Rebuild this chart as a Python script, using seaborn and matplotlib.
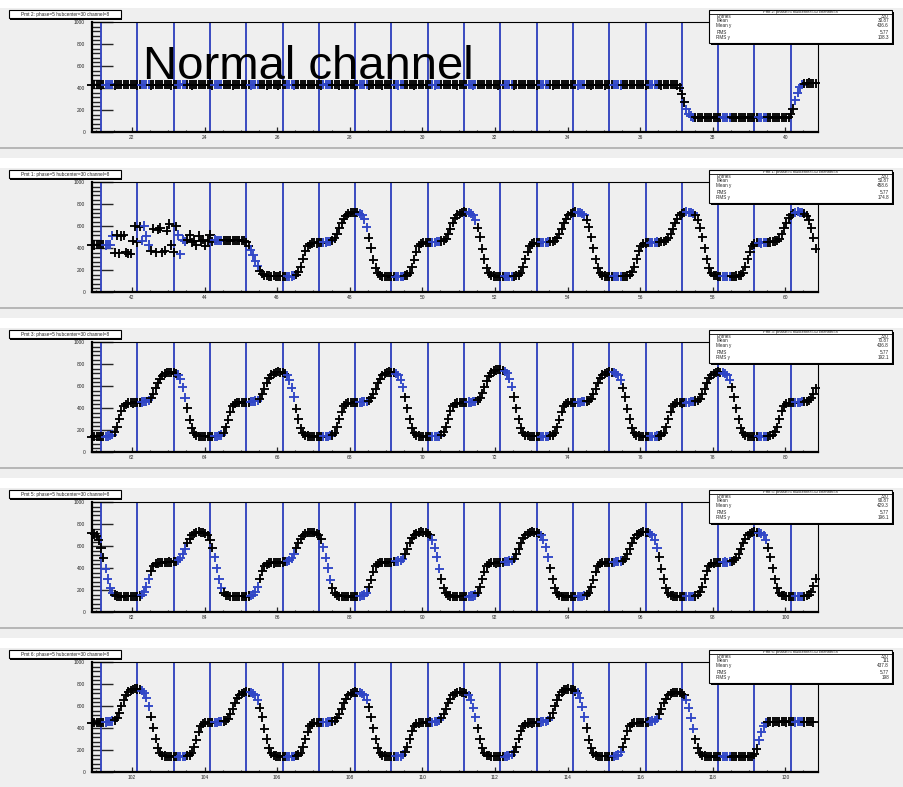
import numpy as np
import pandas as pd
import matplotlib
matplotlib.use("Agg")
import matplotlib.pyplot as plt
from matplotlib.patches import Rectangle
from matplotlib.ticker import MultipleLocator, FormatStrFormatter
import seaborn as sns

# ---------------------------------------------------------------- data
pad_titles = [
    "Pmt 2: phase=5 hubcenter=30 channel=8",
    "Pmt 1: phase=5 hubcenter=30 channel=8",
    "Pmt 3: phase=5 hubcenter=30 channel=8",
    "Pmt 5: phase=5 hubcenter=30 channel=8",
    "Pmt 6: phase=5 hubcenter=30 channel=8",
]
x_start = [20.9, 40.9, 60.9, 80.9, 100.9]
samples_per_unit = 16

# Pmt 2 : normal channel
y_pmt2 = [
    433,431,432,434,430,432,433,431,435,432,430,433,432,434,431,432,
    432,434,431,433,430,432,431,434,433,432,430,431,433,432,434,431,
    431,433,432,430,434,432,433,431,432,435,431,432,430,433,432,431,
    434,432,431,433,432,430,432,434,431,433,432,431,434,432,430,433,
    432,431,433,432,434,431,430,432,433,431,432,434,432,430,431,433,
    433,432,430,431,433,432,434,431,432,430,433,432,431,434,432,432,
    431,434,432,433,431,430,432,433,435,432,431,433,432,430,434,431,
    432,433,431,432,430,434,433,431,432,433,430,432,434,431,433,432,
    430,432,434,431,433,432,431,430,433,432,434,431,432,433,430,432,
    433,431,432,434,432,431,433,430,432,434,431,433,432,431,432,434,
    432,430,433,431,432,434,432,431,430,433,432,431,434,432,433,431,
    431,433,432,430,434,431,432,433,431,432,430,434,432,431,433,432,
    434,432,431,433,430,432,433,431,434,432,431,430,433,432,431,434,
    432,431,434,432,433,431,430,432,431,434,433,432,430,431,432,433,
    433,432,430,431,434,432,431,433,432,430,431,434,432,433,431,432,
    431,434,432,433,430,431,433,432,434,431,432,430,433,432,434,431,
    432,433,430,
    405,345,275,210,168,148,138,
    136,134,137,135,133,136,135,134,137,135,136,133,135,134,136,135,137,134,135,133,
    136,135,134,136,135,137,134,135,136,133,135,134,136,135,134,137,135,136,134,135,
    133,136,
    165,215,290,360,410,432,442,
    446,448,445,447,446,
]

# Pmt 1
y_pmt1 = [
    432,430,433,431,432,434,430,432,433,
    515,360,520,355,512,518,365,350,
    352,470,600,455,598,470,602,512,
    430,378,580,362,570,585,365,378,560,
    620,430,362,600,520,345,478,465,480,
    520,455,470,430,515,465,480,425,470,520,460,475,
    472,470,474,471,473,472,470,474,472,471,473,470,
    468,455,425,385,335,285,235,195,168,155,150,
    148,146,150,147,145,148,
    146,144,145,143,148,151,160,182,232,305,372,418,438,448,451,449,454,452,456,457,461,464,471,
    492,532,582,628,668,698,716,724,729,727,724,716,702,662,592,498,402,298,222,176,154,147,146,144,145,143,
    144,142,147,145,146,152,157,178,228,298,368,421,441,451,453,451,456,454,455,459,462,466,469,
    488,528,578,632,672,702,714,726,731,729,726,714,699,658,588,502,398,302,218,174,156,149,144,142,147,145,
    145,143,146,144,147,150,158,180,230,300,370,420,440,450,452,450,455,453,455,458,460,465,470,
    490,530,580,630,670,700,715,725,730,728,725,715,700,660,590,500,400,300,220,175,155,148,145,143,146,144,
    147,145,144,146,145,149,159,181,233,302,371,419,442,449,450,452,454,455,457,456,461,463,472,
    491,531,579,631,669,701,717,723,732,727,723,717,701,661,589,499,401,299,221,177,153,150,146,144,145,146,
    145,144,146,143,148,150,157,179,231,301,369,422,439,451,451,449,455,454,456,458,459,466,470,
    489,529,581,629,671,699,716,725,731,729,722,713,698,658,585,495,395,
]

# Pmt 3
y_pmt3 = [
    143,146,144,
    146,144,145,143,148,151,160,182,232,305,372,418,438,448,451,449,454,452,456,457,461,464,471,
    492,532,582,628,668,698,716,724,729,727,724,716,702,662,592,498,402,298,222,176,154,147,146,144,145,
    144,142,147,145,146,152,157,178,228,298,368,421,441,451,453,451,456,454,455,459,462,466,469,
    488,528,578,632,672,702,714,726,731,729,726,714,699,658,588,502,398,302,218,174,156,149,144,142,147,145,
    145,143,146,144,147,150,158,180,230,300,370,420,440,450,452,450,455,453,455,458,460,465,470,
    490,530,580,630,670,700,715,725,730,728,725,715,700,660,590,500,400,300,220,175,155,148,145,143,146,
    147,145,144,146,145,149,159,181,233,302,371,419,442,449,450,452,454,455,457,456,461,463,472,
    491,535,590,645,690,720,740,748,752,750,745,735,718,670,595,502,401,299,221,177,153,150,146,144,145,146,
    144,142,147,145,146,152,157,178,228,298,368,421,441,451,453,451,456,454,455,459,462,466,469,
    488,528,578,632,672,702,714,726,731,729,726,714,699,658,588,502,398,302,218,174,156,149,144,142,147,
    144,146,145,143,148,149,157,179,229,299,369,421,441,451,451,449,456,452,454,459,461,466,469,
    489,529,579,629,671,701,714,726,731,729,724,716,699,661,591,501,399,301,219,176,156,147,146,142,145,143,
    146,143,145,144,147,151,159,181,229,301,371,421,441,452,451,450,456,453,454,459,461,464,471,
    491,531,583,
]

# Pmt 5
y_pmt5 = [
    725,712,698,655,585,495,398,302,224,178,157,149,146,143,145,144,
    147,145,144,146,145,149,159,181,233,302,371,419,442,449,450,452,454,455,457,456,461,463,472,
    491,531,579,631,669,701,717,723,732,727,723,717,701,661,589,499,401,299,221,177,153,150,146,144,145,146,
    146,144,145,143,148,151,160,182,232,305,372,418,438,448,451,449,454,452,456,457,461,464,471,
    492,532,582,628,668,698,716,724,729,727,724,716,702,662,592,498,402,298,222,176,154,147,146,144,145,143,
    144,142,147,145,146,152,157,178,228,298,368,421,441,451,453,451,456,454,455,459,462,466,469,
    488,528,578,632,672,702,714,726,731,729,726,714,699,658,588,502,398,302,218,174,156,149,144,142,147,145,
    144,146,145,143,148,149,157,179,229,299,369,421,441,451,451,449,456,452,454,459,461,466,469,
    489,529,579,629,671,701,714,726,731,729,724,716,699,661,591,501,399,301,219,176,156,147,146,142,145,143,
    144,142,147,145,146,152,157,178,228,298,368,421,441,451,453,451,456,454,455,459,462,466,469,
    488,528,578,632,672,702,714,726,731,729,726,714,699,658,588,502,398,302,218,174,156,149,144,142,147,145,
    147,145,144,146,145,149,159,181,233,302,371,419,442,449,450,452,454,455,457,456,461,463,472,
    491,531,579,631,669,701,717,723,732,727,723,717,701,661,589,499,401,299,221,177,153,150,146,144,145,146,
    146,144,147,145,146,152,160,183,235,305,
]

# Pmt 6
y_pmt6 = [
    448,452,455,451,456,454,457,459,462,467,473,
    495,540,600,655,700,730,745,755,760,758,752,742,725,
    680,600,505,405,305,225,178,156,148,145,143,146,144,
    144,142,147,145,146,152,157,178,228,298,368,421,441,451,453,451,456,454,455,459,462,466,469,
    488,528,578,632,672,702,714,726,731,729,726,714,699,658,588,502,398,302,218,174,156,149,144,142,147,
    145,143,146,144,147,150,158,180,230,300,370,420,440,450,452,450,455,453,455,458,460,465,470,
    490,530,580,630,670,700,715,725,730,728,725,715,700,660,590,500,400,300,220,175,155,148,145,
    147,145,144,146,145,149,159,181,233,302,371,419,442,449,450,452,454,455,457,456,461,463,472,
    491,531,579,631,669,701,717,723,732,727,723,717,701,661,589,499,401,299,221,177,153,150,146,144,145,
    146,144,145,143,148,151,160,182,232,305,372,418,438,448,451,449,454,452,456,457,461,464,471,
    495,540,600,655,700,730,748,755,758,756,750,740,722,675,598,502,402,298,222,176,154,147,146,144,
    145,144,146,143,147,150,158,181,231,300,371,419,441,450,452,451,455,453,456,458,460,466,470,
    489,529,580,631,669,701,716,726,729,727,724,714,699,659,588,497,398,301,222,176,
    155,148,144,142,145,143,146,144,142,145,143,144,146,143,145,142,144,146,143,145,144,143,146,
    165,215,290,365,420,448,458,
    460,458,461,459,457,460,462,458,459,461,460,457,459,462,460,458,461,459,460,458,
]

series = [y_pmt2, y_pmt1, y_pmt3, y_pmt5, y_pmt6]

stat_labels = ["Entries", "Mean", "Mean y", "RMS", "RMS y"]
stat_entries = ["320", "320", "320", "320", "320"]
stat_mean = ["30.87", "50.87", "70.87", "90.87", "111"]
stat_mean_y = ["436.6", "458.6", "436.8", "429.3", "437.8"]
stat_rms = ["5.77", "5.77", "5.77", "5.77", "5.77"]
stat_rms_y = ["108.3", "174.8", "192.1", "196.1", "198"]

# ---------------------------------------------------------------- style
sns.set_style("white")
plt.rcParams["font.family"] = ["Liberation Sans", "DejaVu Sans"]

LINE_BLUE = "#2b3dbd"
MARK_BLUE = "#3046c6"
PAD_GRAY = "#efefef"

W, H = 904, 787
fig = plt.figure(figsize=(W / 100, H / 100), dpi=100, facecolor="white")

bg = fig.add_axes([0, 0, 1, 1], zorder=-10)
bg.set_xlim(0, W)
bg.set_ylim(H, 0)
bg.axis("off")

ov = fig.add_axes([0, 0, 1, 1], zorder=10)
ov.set_xlim(0, W)
ov.set_ylim(H, 0)
ov.axis("off")

PAD_TOP0, PAD_STEP = 8, 160
FRAME_L, FRAME_R = 92, 818
FRAME_T0, FRAME_B0 = 22.3, 132.3

for k, yvals in enumerate(series):
    top = PAD_TOP0 + PAD_STEP * k

    # pad background and its lower border
    bg.add_patch(Rectangle((0, top), W, 150, color=PAD_GRAY, lw=0))
    bg.add_patch(Rectangle((0, top + 139), W, 2.2, color="#b7b7b7", lw=0))

    ax = fig.add_axes([FRAME_L / W, 1 - (FRAME_B0 + PAD_STEP * k) / H,
                       (FRAME_R - FRAME_L) / W, (FRAME_B0 - FRAME_T0) / H])
    ax.set_facecolor("none")

    y = np.asarray(yvals, dtype=float)
    idx = np.arange(len(y))
    x = x_start[k] + idx / samples_per_unit
    phase = (idx - 4) % 16
    gate = np.where((phase >= 2) & (phase <= 5), "blue", "black")
    df = pd.DataFrame({"x": x, "y": y, "gate": gate})

    # trigger markers every 16 samples
    for j in range(4, len(y), 16):
        ax.axvline(x[j], color=LINE_BLUE, lw=1.3, zorder=1)

    sns.scatterplot(data=df, x="x", y="y", hue="gate",
                    palette={"black": "black", "blue": MARK_BLUE},
                    marker="+", s=44, linewidth=1.35, legend=False,
                    ax=ax, zorder=3, clip_on=False)

    ax.set_xlim(x_start[k], x_start[k] + 20)
    ax.set_ylim(0, 1000)
    ax.set_xlabel("")
    ax.set_ylabel("")
    ax.xaxis.set_major_locator(MultipleLocator(2))
    ax.xaxis.set_minor_locator(MultipleLocator(0.5))
    ax.xaxis.set_major_formatter(FormatStrFormatter("%g"))
    ax.yaxis.set_major_locator(MultipleLocator(200))
    ax.yaxis.set_minor_locator(MultipleLocator(40))
    ax.tick_params(axis="y", which="major", direction="in", length=15,
                   width=1.0, labelsize=3.5, pad=5, left=True)
    ax.tick_params(axis="y", which="minor", direction="in", length=5.5,
                   width=1.0, left=True)
    ax.tick_params(axis="x", which="major", direction="in", length=3.5,
                   width=0.9, labelsize=3.5, pad=2, bottom=True)
    ax.tick_params(axis="x", which="minor", direction="in", length=1.8,
                   width=0.8, bottom=True)
    for sp in ax.spines.values():
        sp.set_color("black")
        sp.set_linewidth(0.8)
    ax.spines["left"].set_linewidth(1.6)
    ax.spines["bottom"].set_linewidth(1.6)

    # pad title box
    ov.add_patch(Rectangle((10.5, top + 3.5), 112, 8.3, color="black", lw=0))
    ov.add_patch(Rectangle((9, top + 2), 112, 8.3, facecolor="white",
                           edgecolor="black", lw=0.8))
    ov.text(65, top + 6.2, pad_titles[k], fontsize=3.4, ha="center", va="center")

    # statistics box
    bx0, bx1 = 709, 892
    by0, by1 = top + 2, top + 35.3
    ov.add_patch(Rectangle((bx0 + 2, by0 + 2), bx1 - bx0, by1 - by0, color="black", lw=0))
    ov.add_patch(Rectangle((bx0, by0), bx1 - bx0, by1 - by0, facecolor="white",
                           edgecolor="black", lw=0.8))
    ov.plot([bx0, bx1], [top + 6.2, top + 6.2], color="black", lw=0.6)
    ov.text((bx0 + bx1) / 2, top + 4.1, pad_titles[k], fontsize=3.0,
            ha="center", va="center")
    values = [stat_entries[k], stat_mean[k], stat_mean_y[k], stat_rms[k], stat_rms_y[k]]
    for r, (lab, val) in enumerate(zip(stat_labels, values)):
        yy = top + [8.3, 13.0, 17.9, 24.0, 29.5][r]
        ov.text(716.5, yy, lab, fontsize=3.3, ha="left", va="center")
        ov.text(889, yy, val, fontsize=3.3, ha="right", va="center")

ov.text(143, 79, "Normal channel", fontsize=34, ha="left", va="baseline", color="black")

fig.savefig("out.png", dpi=100, facecolor="white")
